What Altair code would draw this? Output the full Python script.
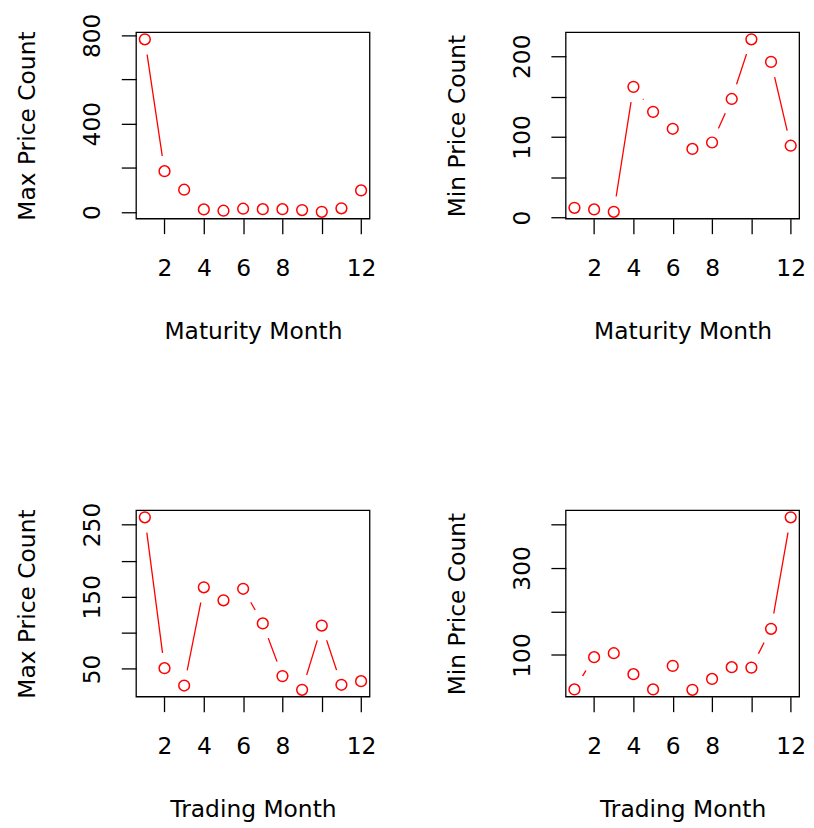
import altair as alt
import pandas as pd

# ---- data ----
months = list(range(1, 13))
maturity_max = [782, 185, 101, 12, 6, 15, 13, 13, 9, 1, 17, 98]
maturity_min = [12, 10, 7, 162, 131, 110, 85, 93, 147, 221, 193, 89]
trading_max = [260, 51, 27, 163, 145, 161, 113, 40, 21, 110, 28, 33]
trading_min = [21, 95, 104, 56, 21, 75, 20, 45, 72, 71, 160, 416]

x_ticks = [2, 4, 6, 8, 10, 12]
x_labels = [2, 4, 6, 8, 12]

tl_ticks, tl_labels = [0, 200, 400, 600, 800], [0, 400, 800]
tr_ticks, tr_labels = [0, 50, 100, 150, 200], [0, 100, 200]
bl_ticks, bl_labels = [50, 100, 150, 200, 250], [50, 150, 250]
br_ticks, br_labels = [100, 200, 300, 400], [100, 300]

FONT = "DejaVu Sans"
FS = 23.5
W, H = 235, 187.5
LW = 1.3


def rng(vals):
    lo, hi = min(vals), max(vals)
    d = (hi - lo) * 0.04
    return [lo - d, hi + d]


def shown(lst):
    return "indexof([%s], datum.value) >= 0 ? datum.label : ''" % ",".join(str(v) for v in lst)


def panel(xtitle, ytitle, vals, yticks, ylabels):
    df = pd.DataFrame({"month": months, "count": vals})
    xs = alt.Scale(domain=rng(months), nice=False, zero=False)
    ys = alt.Scale(domain=rng(vals), nice=False, zero=False)
    xaxis = alt.Axis(
        values=x_ticks, labelExpr=shown(x_labels), title=xtitle,
        domain=False, grid=False, tickSize=15, tickWidth=LW, tickColor="black",
        labelFont=FONT, labelFontSize=FS, labelColor="black",
        labelPadding=42, labelBaseline="alphabetic", labelAlign="center",
        labelFlush=False, labelOverlap=False, labelBound=False,
        titleFont=FONT, titleFontSize=FS, titleFontWeight="normal", titleColor="black",
        titleY=121, titleBaseline="alphabetic", titleAlign="center", zindex=1,
    )
    yaxis = alt.Axis(
        values=yticks, labelExpr=shown(ylabels), title=ytitle,
        domain=False, grid=False, tickSize=15, tickWidth=LW, tickColor="black",
        labelFont=FONT, labelFontSize=FS, labelColor="black",
        labelAngle=270, labelPadding=22, labelBaseline="alphabetic", labelAlign="center",
        labelFlush=False, labelOverlap=False, labelBound=False,
        titleFont=FONT, titleFontSize=FS, titleFontWeight="normal", titleColor="black",
        titleAngle=270, titleX=-102, titleBaseline="alphabetic", titleAlign="center", zindex=1,
    )
    base = alt.Chart(df).encode(
        x=alt.X("month:Q", scale=xs, axis=xaxis),
        y=alt.Y("count:Q", scale=ys, axis=yaxis),
    )
    line = base.mark_line(color="red", strokeWidth=LW)
    mask = base.mark_point(shape="circle", filled=True, color="white", opacity=1,
                           size=980, strokeWidth=0, clip=True)
    pts = base.mark_point(shape="circle", filled=False, color="red", opacity=1,
                          size=117, strokeWidth=1.5)
    frame = alt.Chart(pd.DataFrame({"f": [0]})).mark_rect(
        fillOpacity=0, stroke="black", strokeWidth=LW
    ).encode(x=alt.value(0), x2=alt.value("width"), y=alt.value(0), y2=alt.value("height"))
    return alt.layer(line, mask, pts, frame).properties(width=W, height=H)


p1 = panel("Maturity Month", "Max Price Count", maturity_max, tl_ticks, tl_labels)
p2 = panel("Maturity Month", "Min Price Count", maturity_min, tr_ticks, tr_labels)
p3 = panel("Trading Month", "Max Price Count", trading_max, bl_ticks, bl_labels)
p4 = panel("Trading Month", "Min Price Count", trading_min, br_ticks, br_labels)

chart = alt.concat(
    p1, p2, p3, p4, columns=2,
    spacing={"row": 293, "column": 197.3},
    bounds="flush",
).properties(
    padding={"left": 8, "top": 2, "right": 0, "bottom": 0},
    background="white",
).configure_view(stroke=None, strokeWidth=0)

chart.save("out.html", embed_options={"renderer": "svg", "actions": False})
